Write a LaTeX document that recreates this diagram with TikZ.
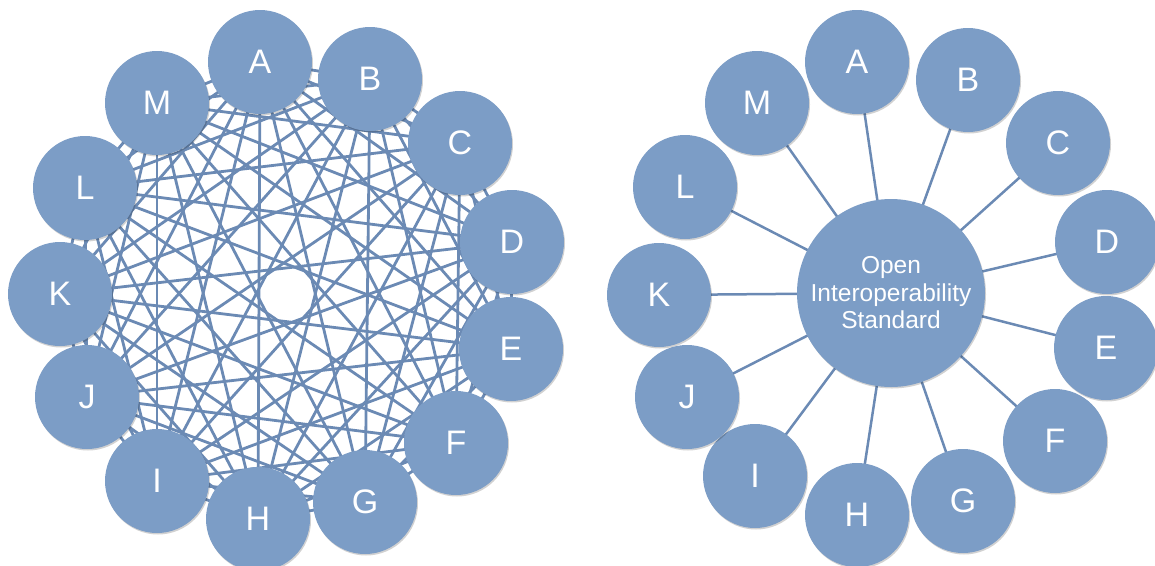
\documentclass[tikz,border=0pt]{standalone}
\usepackage{fontspec}
\setmainfont{Liberation Sans}
\usetikzlibrary{shadows}
\definecolor{bubfill}{HTML}{7C9DC6}
\definecolor{linecol}{HTML}{6B8AB4}
\pgfdeclarelayer{background}
\pgfsetlayers{background,main}
\tikzset{
  bub/.style={circle, fill=bubfill, minimum size=104pt, inner sep=0pt, text=white,
    font=\fontsize{34}{40}\selectfont,
    drop shadow={shadow xshift=1pt, shadow yshift=-1.5pt, fill=black, opacity=0.18}},
  hub/.style={bub, minimum size=188pt, font=\fontsize{24.5}{27.5}\selectfont, align=center},
  mesh/.style={draw=linecol, line width=2.8pt},
  spoke/.style={draw=linecol, line width=2.5pt},
}
\begin{document}
\begin{tikzpicture}[x=1pt, y=-1pt]
\useasboundingbox (0,0) rectangle (1155,565);
% left: fully meshed
\foreach \n/\x/\y/\t in {1/260/62/A, 2/370/79/B, 3/460/143/C, 4/512/242/D, 5/511/349/E,
  6/456/443/F, 7/365/502/G, 8/258/519/H, 9/157/481/I, 10/87/397/J, 11/60/294/K,
  12/85/188/L, 13/157/103/M}
  \node[bub] (l\n) at (\x,\y) {\t};
\begin{pgfonlayer}{background}
\foreach \i in {1,...,12} {
  \pgfmathtruncatemacro\ii{\i+1}
  \foreach \j in {\ii,...,13}
    \draw[mesh] (l\i.center) -- (l\j.center);
}
\end{pgfonlayer}
% right: hub and spokes
\node[hub] (ois) at (891,293) {Open\\Interoperability\\Standard};
\foreach \n/\x/\y/\t in {1/857/62/A, 2/968/80/B, 3/1058/143/C, 4/1107/242/D, 5/1106/348/E,
  6/1055/441/F, 7/963/501/G, 8/857/515/H, 9/755/476/I, 10/687/397/J, 11/659/295/K,
  12/685/187/L, 13/757/103/M}
  \node[bub] (r\n) at (\x,\y) {\t};
\begin{pgfonlayer}{background}
\foreach \i in {1,...,13}
  \draw[spoke] (ois.center) -- (r\i.center);
\end{pgfonlayer}
\end{tikzpicture}
\end{document}
